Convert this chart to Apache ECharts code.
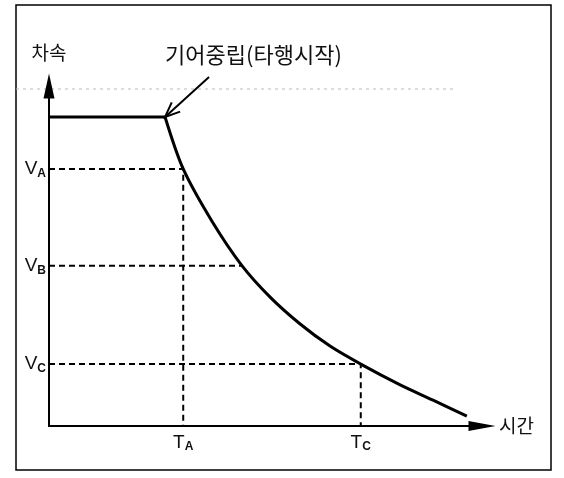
<!DOCTYPE html>
<html>
<head>
<meta charset="utf-8">
<script src="https://cdn.jsdelivr.net/npm/echarts@6/dist/echarts.min.js"></script>
<style>
  html, body { margin: 0; padding: 0; background: #fff; }
  #main { width: 564px; height: 478px; }
</style>
</head>
<body>
<div id="main"></div>
<script>
var myChart = echarts.init(document.getElementById('main'));

// 차속 / 시간 (axis 0..100, arbitrary units)
var cruise = [[0, 90.9], [26.8, 90.9]];
var coastCurve = [[26.8, 90.9], [31, 75.6], [37.6, 60.3], [44.6, 47.1], [51.3, 37.6],
    [58, 30], [64.9, 23.5], [72, 18.2], [81.1, 12.1], [88.7, 7.6], [96.5, 2.9]];
var speedTicks = [75.6, 47.1, 18.2];
var speedNames = ['A', 'B', 'C'];
var speedHitX = [31, 44.6, 72];     // where each speed line meets the curve
var timeTicks = [31, 72];
var timeNames = ['A', 'C'];

var font = '"Noto Sans CJK KR", "Noto Sans", sans-serif';

function subLabel(list, names, letter) {
    return function (val) {
        for (var i = 0; i < list.length; i++) {
            if (Math.abs(list[i] - val) < 0.01) return '{v|' + letter + '}{s|' + names[i] + '}';
        }
        return '';
    };
}
var richSub = {
    v: { fontSize: 19, color: '#111', fontFamily: 'Liberation Sans, sans-serif' },
    s: { fontSize: 12, color: '#111', fontWeight: 'bold', fontFamily: 'Liberation Sans, sans-serif', padding: [9, 0, 0, 0] }
};

// guide lines (dashed)
var guides = [];
// VA -> TA
guides.push([[0, speedTicks[0]], [timeTicks[0], speedTicks[0]], [timeTicks[0], 0]]);
// VB
guides.push([[0, speedTicks[1]], [speedHitX[1], speedTicks[1]]]);
// VC -> TC
guides.push([[0, speedTicks[2]], [timeTicks[1], speedTicks[2]], [timeTicks[1], 0]]);

var series = [
    {
        type: 'line', data: cruise, symbol: 'none',
        lineStyle: { color: '#000', width: 3 }, z: 5
    },
    {
        type: 'line', data: coastCurve, symbol: 'none', smooth: 0.3,
        lineStyle: { color: '#000', width: 3 }, z: 5
    }
];
guides.forEach(function (g) {
    series.push({
        type: 'line', data: g, symbol: 'none',
        lineStyle: { color: '#000', width: 2, type: [6, 4] }, z: 3
    });
});

option = {
    animation: false,
    grid: { left: 49, top: 86, right: 82, bottom: 52, outerBoundsMode: 'none' },
    xAxis: {
        type: 'value', min: 0, max: 100,
        name: '시간', nameLocation: 'end', nameGap: 17,
        nameTextStyle: { fontSize: 19, color: '#111', fontFamily: font },
        axisLine: { lineStyle: { color: '#000', width: 2 }, symbol: ['none', 'triangle'], symbolSize: [10, 27] },
        axisTick: { show: false },
        splitLine: { show: false },
        axisLabel: {
            customValues: timeTicks, margin: 6,
            formatter: subLabel(timeTicks, timeNames, 'T'), rich: richSub
        }
    },
    yAxis: {
        type: 'value', min: 0, max: 100,
        name: '차속', nameLocation: 'end', nameGap: 24,
        nameTextStyle: { fontSize: 19, color: '#111', fontFamily: font, align: 'center' },
        axisLine: { lineStyle: { color: '#000', width: 2 }, symbol: ['none', 'triangle'], symbolSize: [11, 25] },
        axisTick: { show: false },
        splitLine: { show: false },
        axisLabel: {
            customValues: speedTicks, margin: 3,
            formatter: subLabel(speedTicks, speedNames, 'V'), rich: richSub
        }
    },
    series: series
};

myChart.setOption(option);

// annotation and frame, tied to the corner where coasting starts
var tip = myChart.convertToPixel({ gridIndex: 0 }, coastCurve[0]);
var tail = [tip[0] + 44, tip[1] - 40];
var ang = Math.atan2(tip[1] - tail[1], tip[0] - tail[0]);
function barb(a) {
    return [tip[0] - 16 * Math.cos(ang + a), tip[1] - 16 * Math.sin(ang + a)];
}
myChart.setOption({
    graphic: [
        { type: 'rect', shape: { x: 16, y: 5, width: 535, height: 465 },
          style: { fill: 'none', stroke: '#000', lineWidth: 1.5 } },
        { type: 'line', shape: { x1: 16, y1: 89, x2: 455, y2: 89 },
          style: { stroke: '#bbb', lineWidth: 1, lineDash: [3, 4] } },
        { type: 'text', x: tip[0], y: 55,
          style: { text: '기어중립(타행시작)', fill: '#111', font: '22px ' + font, textVerticalAlign: 'middle' } },
        { type: 'polyline', shape: { points: [tail, tip] }, style: { stroke: '#000', lineWidth: 2 } },
        { type: 'polyline', shape: { points: [barb(0.4), tip, barb(-0.4)] }, style: { stroke: '#000', lineWidth: 2, fill: 'none' } }
    ]
});
</script>
</body>
</html>
